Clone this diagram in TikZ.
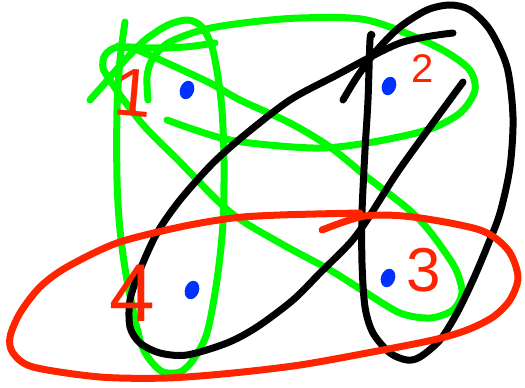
\documentclass[tikz,border=0pt]{standalone}
\usepackage{fontspec}
\newfontfamily\lblfont{Liberation Sans}
\usetikzlibrary{shapes.geometric}
\definecolor{hgreen}{RGB}{0,250,0}
\definecolor{hred}{RGB}{255,36,0}
\definecolor{hblue}{RGB}{0,50,255}

\begin{document}
\begin{tikzpicture}[
  x=1pt,y=-1pt,
  edge/.style={line width=7pt,line cap=round,line join=round},
  gedge/.style={edge,draw=hgreen},
  kedge/.style={edge,draw=black},
  redge/.style={edge,draw=hred},
  v/.style={ellipse,fill=hblue,inner sep=0pt,minimum width=14pt,minimum height=19pt,rotate=-20},
  lbl/.style={text=hred,inner sep=0pt,font=\lblfont}
]
\useasboundingbox (0,0) rectangle (525,388);
\draw[gedge] plot[smooth] coordinates {(125,22) (120,60) (117,110) (117,180) (120,230) (127,280)
  (140,340) (150,360) (163,372) (180,372) (193,360) (207,333) (217,280) (223,223) (224,160)
  (222,110) (218,77) (212,47) (202,27) (188,20) (168,25) (145,40) (125,60) (105,83) (90,100)};
\draw[gedge] plot[smooth] coordinates {(148,100) (147,77) (152,60) (168,43) (202,30) (243,23)
  (300,18) (367,20) (433,45) (468,68) (475,90) (460,113) (427,130) (367,143) (313,148)
  (230,140) (167,120)};
\draw[gedge] plot[smooth] coordinates {(215,43) (185,47) (150,48) (118,47) (105,55) (103,68)
  (110,80) (120,95) (145,127) (178,160) (230,212) (280,243) (330,270) (365,292) (400,313)
  (430,318) (453,310) (462,293) (457,272) (447,255) (427,228) (407,208) (367,177) (330,147)
  (290,123) (240,100) (210,83) (167,63) (137,50) (118,46)};
\draw[kedge] plot[smooth] coordinates {(453,33) (400,43) (333,77) (290,100) (247,133) (213,163)
  (180,200) (157,233) (140,270) (130,300) (130,327) (140,343) (160,353) (187,355) (227,343)
  (257,327) (293,300) (320,273) (350,243) (367,220) (397,173) (430,127) (463,82)};
\draw[kedge] plot[smooth] coordinates {(343,100) (357,77) (377,50) (400,27) (427,10) (450,5)
  (470,10) (490,30) (507,67) (513,117) (510,167) (500,213) (487,247) (473,280) (457,313)
  (440,340) (420,357) (407,360) (390,353) (373,333) (365,307) (362,263) (362,213) (365,150)
  (368,100) (370,40) (372,35)};
\draw[redge] plot[smooth] coordinates {(322,230) (365,216) (413,217) (480,230) (508,250)
  (518,277) (510,300) (493,317) (467,330) (433,340) (367,353) (300,365) (233,373) (167,378)
  (100,377) (33,367) (13,353) (10,337) (20,313) (40,287) (67,267) (117,243) (180,227)
  (233,218) (280,215) (360,213)};
\node[v] (v1) at (187,90) {};
\node[v] (v2) at (389,86) {};
\node[v] (v3) at (388,278) {};
\node[v] (v4) at (192,290) {};
\node[lbl,font=\lblfont\fontsize{68}{68}\selectfont,rotate=-5] (l1) at (133,93) {1};
\node[lbl,font=\lblfont\fontsize{40}{40}\selectfont] (l2) at (423,69) {2};
\node[lbl,font=\lblfont\fontsize{62}{62}\selectfont] (l3) at (424,270) {3};
\node[lbl,font=\lblfont\fontsize{82}{82}\selectfont] (l4) at (132,293) {4};
\end{tikzpicture}
\end{document}
